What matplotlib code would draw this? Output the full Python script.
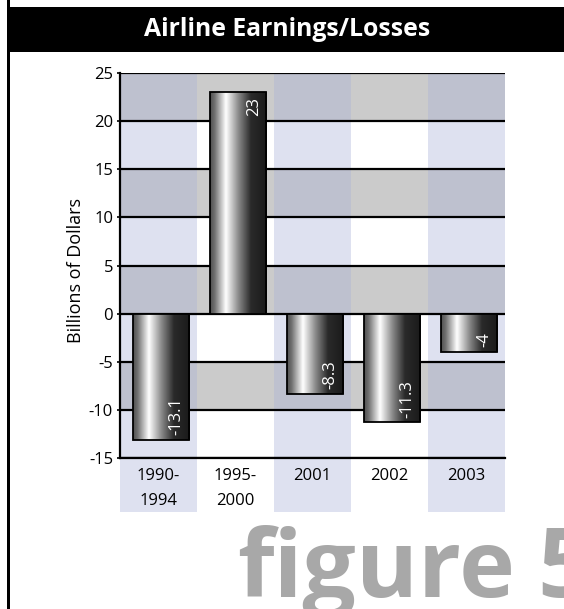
import matplotlib
matplotlib.use("Agg")
import matplotlib.pyplot as plt
import numpy as np
from matplotlib.colors import LinearSegmentedColormap
from matplotlib.patches import Rectangle
import matplotlib.transforms as mtrans

# data
periods = ["1990-\n1994", "1995-\n2000", "2001", "2002", "2003"]
earnings = [-13.1, 23, -8.3, -11.3, -4]
yticks = [-15, -10, -5, 0, 5, 10, 15, 20, 25]

plt.rcParams['font.family'] = ['Open Sans', 'DejaVu Sans']

fig = plt.figure(figsize=(5.64, 6.09), dpi=100)
fig.patch.set_facecolor('white')

# frame: black title bar + left border line
fig.patches.append(Rectangle((7/564, 1-52/609), 1, 45/609, transform=fig.transFigure,
                             facecolor='black', edgecolor='none', zorder=0))
fig.patches.append(Rectangle((7/564, 0), 2.5/564, 1, transform=fig.transFigure,
                             facecolor='black', edgecolor='none', zorder=0))
fig.text(287/564, 1-30/609, "Airline Earnings/Losses", color='white', fontsize=17.8,
         fontweight='bold', ha='center', va='center')

ax = fig.add_axes([120/564, 1-458/609, 385/564, 385/609])
ax.set_xlim(-0.5, 4.5)
ax.set_ylim(-15, 25)

# background checkerboard
lav_dark, lav_light = '#bec1cf', '#dee1f0'
gry_dark, gry_light = '#cbcbcb', '#ffffff'
for i in range(len(periods)):
    lav = (i % 2 == 0)
    for k, lo in enumerate(yticks[:-1]):
        dark = (k % 2 == 1)
        if lav:
            c = lav_dark if dark else lav_light
        else:
            c = gry_dark if dark else gry_light
        ax.add_patch(Rectangle((i - 0.5, lo), 1, 5, facecolor=c, edgecolor='none', zorder=0))
    if lav:
        tr = mtrans.blended_transform_factory(ax.transData, ax.transAxes)
        ax.add_patch(Rectangle((i - 0.5, -0.14), 1, 0.14, transform=tr, facecolor=lav_light,
                               edgecolor='none', clip_on=False, zorder=0))

for y in yticks:
    ax.axhline(y, color='black', lw=1.6, zorder=1)

# metallic bars
metal = LinearSegmentedColormap.from_list('metal', [
    (0.0, '#505050'), (0.08, '#707070'), (0.28, '#ffffff'), (0.5, '#8a8a8a'),
    (0.72, '#2a2a2a'), (1.0, '#1a1a1a')])
grad = np.linspace(0, 1, 256).reshape(1, -1)
x = np.arange(len(periods))
bars = ax.bar(x + 0.03, earnings, width=0.73, facecolor='none', edgecolor='black', lw=1.3, zorder=3)
for b, v in zip(bars, earnings):
    x0, y0, w, h = b.get_x(), b.get_y(), b.get_width(), b.get_height()
    im = ax.imshow(grad, cmap=metal, extent=[x0, x0 + w, min(y0, y0 + h), max(y0, y0 + h)],
                   aspect='auto', zorder=2, interpolation='bilinear')
    im.set_clip_path(b)
    if v >= 0:
        ax.annotate(f"{v:g}", (x0 + w, v), xytext=(-3, -3.5), textcoords='offset points',
                    rotation=90, ha='right', va='top', color='white', fontsize=12, zorder=4)
    else:
        ax.annotate(f"{v:g}", (x0 + w, v), xytext=(-3, 3.5), textcoords='offset points',
                    rotation=90, ha='right', va='bottom', color='white', fontsize=12, zorder=4)

ax.set_xticks(x)
ax.set_xticklabels(periods, fontsize=12, linespacing=1.75)
ax.tick_params(axis='x', length=0, pad=7)
ax.set_yticks(yticks)
ax.set_yticklabels([str(t) for t in yticks], fontsize=12)
ax.tick_params(axis='y', length=2, width=1.2, pad=3)

ax.spines['right'].set_visible(False)
ax.spines['top'].set_visible(False)
ax.spines['left'].set_linewidth(1.6)
ax.spines['bottom'].set_linewidth(1.6)
ax.spines['left'].set_zorder(5)
ax.spines['bottom'].set_zorder(5)

ax.set_ylabel("Billions of Dollars", fontsize=13)
ax.yaxis.set_label_coords(-0.09, 0.486)

# big grey caption, the "5" runs off the right edge like in the original
fig.text(237/564, 1-597/609, "figure", color='#a8a8a8', fontsize=68, fontweight='bold',
         ha='left', va='baseline')
fig.text(537/564, 1-597/609, "5", color='#a8a8a8', fontsize=70, fontweight='bold',
         ha='left', va='baseline')

fig.savefig("out.png", dpi=100)
